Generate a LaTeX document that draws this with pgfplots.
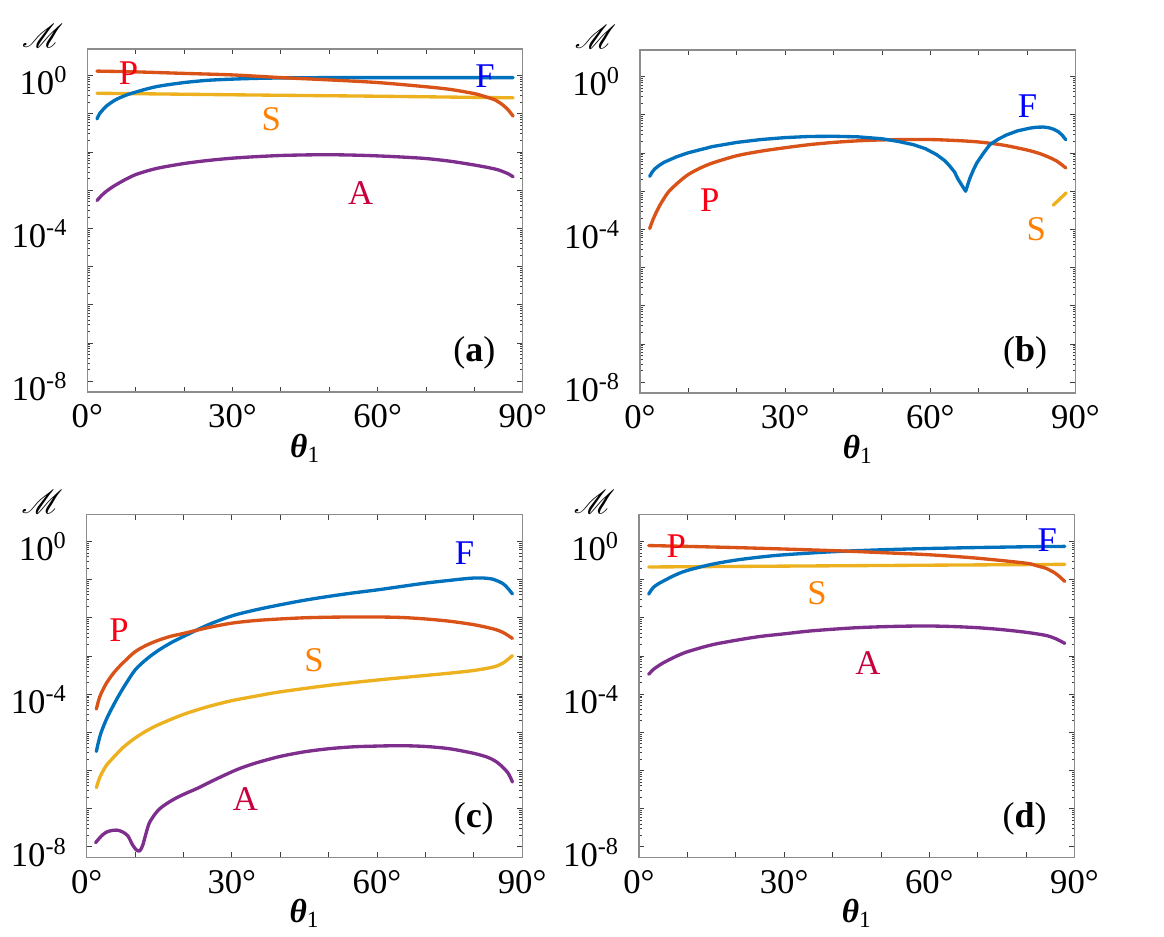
\documentclass[border=0pt]{standalone}
\usepackage{pgfplots}
\pgfplotsset{compat=1.18}
\usepackage{fontspec}
\setmainfont{Liberation Serif}
\usepackage{mathrsfs}
\definecolor{mblue}{RGB}{0,114,189}
\definecolor{morange}{RGB}{217,83,25}
\definecolor{myellow}{RGB}{237,177,32}
\definecolor{mpurple}{RGB}{126,47,142}
\definecolor{tP}{RGB}{250,0,20}
\definecolor{tF}{RGB}{0,0,250}
\definecolor{tS}{RGB}{255,128,0}
\definecolor{tA}{RGB}{200,0,60}
\tikzset{lab/.style={font=\fontsize{26}{26}\selectfont},
  plab/.style={font=\fontsize{27}{27}\selectfont},
  mlab/.style={font=\fontsize{30}{30}\selectfont}}
\pgfplotsset{
  every axis/.append style={
    scale only axis, width=326.6pt, height=257.25pt,
    xmin=0, xmax=90, ymin=5.2e-9, ymax=5,
    axis line style={draw=gray!90, line width=0.8pt},
    tick style={draw=gray!50!black, line width=0.6pt},
    major tick length=4pt, minor tick length=2pt,
    tick align=inside,
    xtick={0,10,...,90},
    xticklabels={0°,,,30°,,,60°,,,90°},
    ytick={1e-8,1e-7,1e-6,1e-5,1e-4,1e-3,1e-2,1e-1,1},
    yticklabels={10\textsuperscript{-8},,,,10\textsuperscript{-4},,,,10\textsuperscript{0}},
    tick label style={font=\fontsize{26}{26}\selectfont, text=black},
    yticklabel style={inner sep=1pt, xshift=-14pt, yshift=-4pt},
    xticklabel style={inner sep=1pt, yshift=-8pt},
    xlabel style={at={(axis description cs:0.5,0)}, anchor=center, yshift=-42pt, font=\fontsize{25}{25}\selectfont},
    xlabel={{\bfseries\itshape θ}\textsubscript{1}},
  },
  every axis plot/.append style={line width=2.5pt, line cap=round, line join=round},
}
\begin{document}
\begin{tikzpicture}
\path[use as bounding box] (0,0) rectangle (873pt,702pt);
% (a)
\begin{semilogyaxis}[name=a, at={(65.5pt,408pt)}, anchor=south west]
\addplot[myellow] coordinates {(2,0.347) (30,0.316) (60,0.29) (88,0.263)};
\addplot[mblue, smooth] coordinates {(2,0.074) (2.5,0.1) (3,0.12) (4,0.162) (5,0.2) (6,0.24) (8,0.309) (10,0.372) (12.5,0.457) (15,0.537) (20,0.661) (25,0.759) (30,0.813) (35,0.851) (40,0.871) (50,0.891) (60,0.891) (70,0.891) (80,0.891) (88,0.891)};
\addplot[morange, smooth] coordinates {(2,1.318) (10,1.259) (20,1.148) (30,1.047) (40,0.891) (50,0.776) (60,0.661) (70,0.513) (75,0.437) (80,0.339) (82,0.288) (84,0.240) (85,0.204) (86,0.166) (87,0.126) (88,0.087)};
\addplot[mpurple, smooth] coordinates {(2,5.37e-4) (3,7.41e-4) (4,9.55e-4) (5,1.17e-3) (6,1.41e-3) (8,1.95e-3) (10,2.57e-3) (12.5,3.24e-3) (15,3.89e-3) (20,5.01e-3) (25,6.03e-3) (30,6.92e-3) (35,7.59e-3) (40,8.13e-3) (45,8.41e-3) (50,8.51e-3) (55,8.32e-3) (60,7.94e-3) (65,7.41e-3) (70,6.76e-3) (75,5.75e-3) (80,4.57e-3) (83,3.89e-3) (85,3.39e-3) (87,2.69e-3) (88,2.24e-3)};
\node[lab, text=tP] at (axis cs:8.5,1.2) {P};
\node[lab, text=tF] at (axis cs:82.2,0.98) {F};
\node[lab, text=tS] at (axis cs:38,0.072) {S};
\node[lab, text=tA] at (axis cs:56.5,8.5e-4) {A};
\node[plab] at (axis cs:80,5.5e-8) {(\textbf{a})};
\end{semilogyaxis}
% (b)
\begin{semilogyaxis}[name=b, at={(480pt,407.25pt)}, anchor=south west]
\addplot[morange, smooth] coordinates {(2,1.05e-4) (2.5,1.58e-4) (3,2.24e-4) (4,4.07e-4) (5,6.6e-4) (6,1.0e-3) (8,1.74e-3) (10,2.75e-3) (12.5,4.07e-3) (15,5.5e-3) (20,8.5e-3) (25,1.12e-2) (30,1.38e-2) (35,1.66e-2) (40,1.9e-2) (45,2.09e-2) (50,2.21e-2) (55,2.26e-2) (60,2.26e-2) (65,2.14e-2) (70,1.95e-2) (75,1.62e-2) (80,1.2e-2) (83,9.3e-3) (86,6.3e-3) (88,4.07e-3)};
\addplot[mblue] coordinates {(2,2.45e-3) (2.5,3.16e-3) (3,3.8e-3) (4,4.79e-3) (5,5.75e-3) (7.5,7.94e-3) (10,1.02e-2) (15,1.48e-2) (20,1.9e-2) (25,2.26e-2) (30,2.54e-2) (35,2.72e-2) (40,2.75e-2) (45,2.66e-2) (50,2.37e-2) (53.5,2.0e-2) (56.5,1.66e-2) (59,1.3e-2) (61.3,9.1e-3) (63,6.3e-3) (64,4.6e-3) (65,3.2e-3) (65.7,2.1e-3) (66.5,1.45e-3) (67.3,1.0e-3) (68.2,2.24e-3) (68.9,3.6e-3) (69.6,5.5e-3) (71,1.0e-2) (72.3,1.66e-2) (74,2.3e-2) (75.8,3.0e-2) (78,3.8e-2) (80.6,4.5e-2) (82,4.75e-2) (83.4,4.8e-2) (84.5,4.6e-2) (85.5,4.2e-2) (86.5,3.6e-2) (87.3,2.9e-2) (88,2.24e-2)};
\addplot[myellow] coordinates {(85.4,4.3e-4) (88.1,9.1e-4)};
\node[lab, text=tF] at (axis cs:80.1,0.166) {F};
\node[lab, text=tP] at (axis cs:14.4,6.0e-4) {P};
\node[lab, text=tS] at (axis cs:81.9,1.0e-4) {S};
\node[plab] at (axis cs:79.6,6e-8) {(\textbf{b})};
\end{semilogyaxis}
% (c)
\begin{semilogyaxis}[name=c, at={(65pt,58.7pt)}, anchor=south west]
\addplot[mblue, smooth] coordinates {(2,3.16e-6) (2.5,6.0e-6) (3,1.0e-5) (4,2.09e-5) (5,3.8e-5) (6,6.6e-5) (7.5,1.41e-4) (10,4.27e-4) (12.5,8.5e-4) (15,1.45e-3) (17.5,2.24e-3) (20,3.24e-3) (25,6.46e-3) (30,1.12e-2) (35,1.62e-2) (40,2.19e-2) (45,2.88e-2) (50,3.63e-2) (55,4.47e-2) (60,5.37e-2) (65,6.6e-2) (70,8.1e-2) (75,9.55e-2) (78,0.105) (80,0.11) (82,0.11) (84,0.102) (86,0.079) (87,0.060) (88,0.042)};
\addplot[morange, smooth] coordinates {(2,4.07e-5) (2.5,7.08e-5) (3,1.05e-4) (4,1.86e-4) (5,2.88e-4) (6,4.17e-4) (7.5,6.6e-4) (10,1.29e-3) (12.5,1.95e-3) (15,2.63e-3) (17.5,3.31e-3) (20,3.89e-3) (25,5.5e-3) (30,7.24e-3) (35,8.5e-3) (40,9.33e-3) (45,1.0e-2) (50,1.035e-2) (55,1.05e-2) (60,1.05e-2) (65,1.02e-2) (70,9.33e-3) (75,8.13e-3) (80,6.6e-3) (84,5.13e-3) (86,4.17e-3) (88,2.88e-3)};
\addplot[myellow, smooth] coordinates {(2,3.55e-7) (2.5,5.6e-7) (3,7.9e-7) (4,1.32e-6) (5,1.86e-6) (7.5,3.98e-6) (10,7.08e-6) (12.5,1.12e-5) (15,1.62e-5) (20,2.95e-5) (25,4.68e-5) (30,6.76e-5) (35,8.9e-5) (40,1.15e-4) (50,1.70e-4) (60,2.34e-4) (70,3.09e-4) (75,3.55e-4) (80,4.17e-4) (84,5.13e-4) (86,6.46e-4) (88,1.02e-3)};
\addplot[mpurple, smooth, tension=0.5] coordinates {(1.85,1.29e-8) (3,1.91e-8) (4,2.4e-8) (5,2.66e-8) (6.2,2.75e-8) (7.3,2.51e-8) (8.5,1.95e-8) (9.5,1.12e-8) (10.3,8.3e-9) (11,7.9e-9) (11.6,1.12e-8) (12.2,2.09e-8) (13,4.37e-8) (14.7,8.9e-8) (16.5,1.35e-7) (18.8,2.0e-7) (21,2.69e-7) (23,3.47e-7) (26,5.37e-7) (31,1.05e-6) (35,1.58e-6) (40,2.34e-6) (45,3.09e-6) (50,3.72e-6) (55,4.17e-6) (60,4.37e-6) (65,4.47e-6) (70,4.27e-6) (75,3.72e-6) (80,2.82e-6) (83,2.19e-6) (85,1.58e-6) (87,8.9e-7) (88,5.0e-7)};
\node[lab, text=tF] at (axis cs:78.1,0.49) {F};
\node[lab, text=tP] at (axis cs:6.7,4.8e-3) {P};
\node[lab, text=tS] at (axis cs:47,7.8e-4) {S};
\node[lab, text=tA] at (axis cs:32.8,1.8e-7) {A};
\node[plab] at (axis cs:80,5.5e-8) {(\textbf{c})};
\end{semilogyaxis}
% (d)
\begin{semilogyaxis}[name=d, at={(479.25pt,58.7pt)}, anchor=south west]
\addplot[myellow] coordinates {(2,0.214) (45,0.232) (88,0.251)};
\addplot[mblue, smooth] coordinates {(2,0.0417) (2.5,0.0525) (3,0.063) (4,0.0776) (5,0.0912) (7.5,0.132) (10,0.174) (15,0.251) (20,0.324) (25,0.389) (30,0.447) (40,0.537) (50,0.603) (60,0.653) (70,0.692) (80,0.724) (88,0.741)};
\addplot[morange, smooth] coordinates {(2,0.78) (20,0.69) (40,0.575) (50,0.51) (60,0.447) (70,0.363) (80,0.269) (82,0.234) (84,0.2) (85,0.174) (86,0.148) (87,0.117) (88,0.089)};
\addplot[mpurple, smooth] coordinates {(2,3.31e-4) (3,4.47e-4) (4,5.5e-4) (5,6.6e-4) (7.5,9.55e-4) (10,1.29e-3) (15,1.95e-3) (20,2.57e-3) (25,3.24e-3) (30,3.8e-3) (35,4.47e-3) (40,5.01e-3) (45,5.5e-3) (50,5.82e-3) (55,6.03e-3) (60,6.1e-3) (65,5.89e-3) (70,5.5e-3) (75,4.9e-3) (80,4.17e-3) (84,3.47e-3) (86,2.88e-3) (88,2.14e-3)};
\node[lab, text=tP] at (axis cs:7.7,0.74) {P};
\node[lab, text=tF] at (axis cs:84.4,1.1) {F};
\node[lab, text=tS] at (axis cs:36.8,0.044) {S};
\node[lab, text=tA] at (axis cs:47.3,6.5e-4) {A};
\node[plab] at (axis cs:79.7,5.4e-8) {(\textbf{d})};
\end{semilogyaxis}
\node[mlab] at ([xshift=-33.4pt,yshift=9.5pt]a.north west) {$\mathscr{M}$};
\node[mlab] at ([xshift=-33.4pt,yshift=9.5pt]b.north west) {$\mathscr{M}$};
\node[mlab] at ([xshift=-33.4pt,yshift=9.5pt]c.north west) {$\mathscr{M}$};
\node[mlab] at ([xshift=-33.4pt,yshift=9.5pt]d.north west) {$\mathscr{M}$};
\end{tikzpicture}
\end{document}
